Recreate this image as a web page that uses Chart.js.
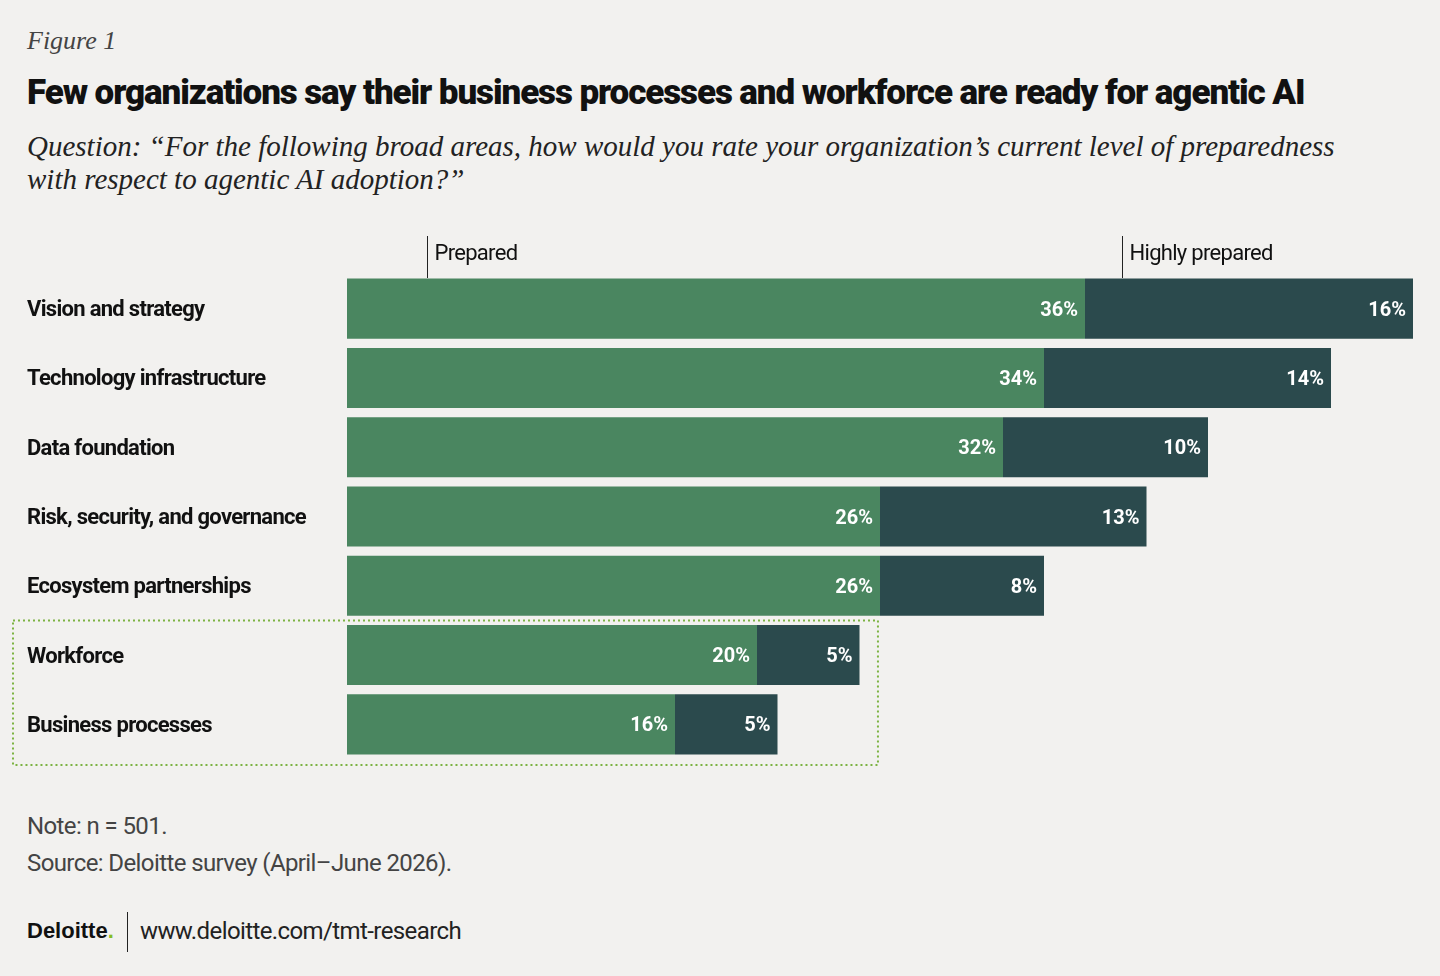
<!DOCTYPE html>
<html><head><meta charset="utf-8">
<script src="https://cdn.jsdelivr.net/npm/chart.js@4"></script>
<style>
body{margin:0;background:#f2f1ef;width:1440px;height:976px;overflow:hidden;position:relative;font-family:"Roboto",sans-serif;color:#111}
#c{position:absolute;left:0;top:0}
.t{position:absolute;left:27px;white-space:nowrap}
</style></head><body>
<div class="t" style="top:26px;font:italic 26px 'Liberation Serif',serif;color:#444">Figure 1</div>
<div class="t" style="top:72px;font-weight:900;font-size:35px;letter-spacing:-1.1px;font-family:'Roboto',sans-serif">Few organizations say their business processes and workforce are ready for agentic AI</div>
<div class="t" style="top:130px;font:italic 29px/33px 'Liberation Serif',serif;color:#222">Question: “For the following broad areas, how would you rate your organization’s current level of preparedness<br>with respect to agentic AI adoption?”</div>
<div class="t" style="top:812px;font-size:24px;letter-spacing:-0.6px;color:#444">Note: n = 501.</div>
<div class="t" style="top:849px;font-size:24px;letter-spacing:-0.6px;color:#444">Source: Deloitte survey (April–June 2026).</div>
<div class="t" style="top:918px;font:bold 22px 'Liberation Sans',sans-serif">Deloitte<span style="color:#86bc25">.</span></div>
<div style="position:absolute;left:127px;top:912px;width:1px;height:40px;background:#222"></div>
<div class="t" style="left:140px;top:917px;font-size:24px;letter-spacing:-0.6px;color:#222">www.deloitte.com/tmt-research</div>
<canvas id="c" width="1440" height="976"></canvas>
<script>
const categories = ["Vision and strategy","Technology infrastructure","Data foundation","Risk, security, and governance","Ecosystem partnerships","Workforce","Business processes"];
const prepared = [36,34,32,26,26,20,16];
const highlyPrepared = [16,14,10,13,8,5,5];

const labelsPlugin = {
  id: "extras",
  afterDatasetsDraw(chart) {
    const ctx = chart.ctx, x = chart.scales.x, y = chart.scales.y;
    ctx.save();
    ctx.font = "bold 20px Roboto, sans-serif";
    ctx.textBaseline = "middle";
    chart.data.datasets.forEach((ds, di) => {
      chart.getDatasetMeta(di).data.forEach((bar, i) => {
        ctx.fillStyle = "#fff"; ctx.textAlign = "right";
        ctx.fillText(ds.data[i] + "%", bar.x - 7, bar.y + 2);
      });
    });
    ctx.fillStyle = "#111"; ctx.textAlign = "left";
    ctx.font = "bold 22px Roboto, sans-serif";
    if ("letterSpacing" in ctx) ctx.letterSpacing = "-0.7px";
    categories.forEach((c, i) => ctx.fillText(c, 27, y.getPixelForValue(i) + 2));
    ctx.font = "22px Roboto, sans-serif";
    [[3.9, "Prepared"], [37.8, "Highly prepared"]].forEach(([v, t]) => {
      const px = Math.round(x.getPixelForValue(v)) + 0.5;
      ctx.strokeStyle = "#222"; ctx.lineWidth = 1;
      ctx.beginPath(); ctx.moveTo(px, 236); ctx.lineTo(px, 278); ctx.stroke();
      ctx.fillText(t, px + 7, 254);
    });
    const top = (y.getPixelForValue(4) + y.getPixelForValue(5)) / 2;
    const bot = y.getPixelForValue(6) + (y.getPixelForValue(6) - y.getPixelForValue(5)) / 2 + 6;
    ctx.strokeStyle = "#7cb342"; ctx.lineWidth = 2; ctx.setLineDash([2, 3]);
    ctx.strokeRect(13, top, x.getPixelForValue(25.9) - 13, bot - top);
    ctx.restore();
  }
};

new Chart(document.getElementById("c"), {
  type: "bar",
  data: {
    labels: categories,
    datasets: [
      { label: "Prepared", data: prepared, backgroundColor: "#4a8660" },
      { label: "Highly prepared", data: highlyPrepared, backgroundColor: "#2b4a4d" }
    ]
  },
  options: {
    indexAxis: "y",
    responsive: false,
    animation: false,
    devicePixelRatio: 1,
    layout: { padding: { left: 347, right: 27, top: 274, bottom: 217 } },
    datasets: { bar: { barPercentage: 1, categoryPercentage: 0.867 } },
    scales: {
      x: { stacked: true, min: 0, max: 52, display: false },
      y: { stacked: true, display: false }
    },
    plugins: { legend: { display: false }, tooltip: { enabled: false } }
  },
  plugins: [labelsPlugin]
});
</script>
</body></html>
